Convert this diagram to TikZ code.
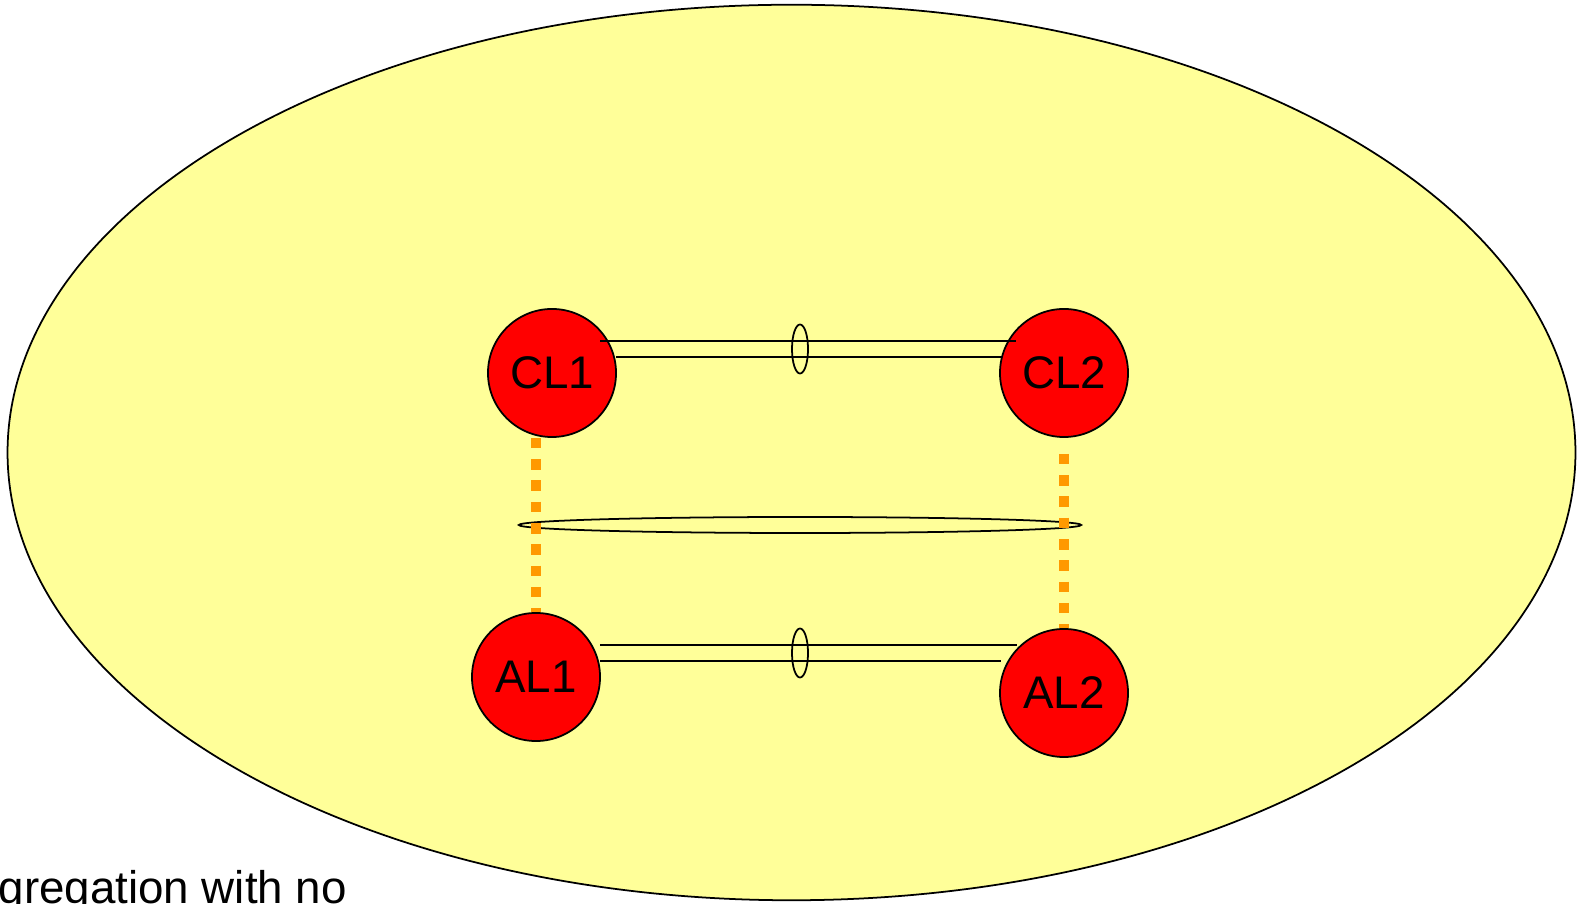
\documentclass[tikz,border=0pt]{standalone}
\usepackage{fontspec}
\setmainfont{Liberation Sans}
\usetikzlibrary{shapes.geometric, calc, backgrounds}

\definecolor{domainyellow}{RGB}{255,255,153}
\definecolor{tieorange}{RGB}{255,153,0}

\begin{document}
\begin{tikzpicture}[
  x=0.01cm, y=-0.01cm,
  station/.style={circle, draw, line width=0.5pt, fill=red, minimum size=1.28cm, inner sep=0pt, font=\fontsize{13}{15}\selectfont},
  ring/.style={ellipse, draw, line width=0.5pt, inner sep=0pt},
  bond/.style={line width=0.5pt},
  tie/.style={tieorange, line width=3pt, dash pattern=on 3pt off 3.05pt},
]
\useasboundingbox (0,0) rectangle (1585,904);
\clip (0,0) rectangle (1585,904);

% routers
\node[station] (CL1) at (552,373) {CL1};
\node[station] (CL2) at (1064,373) {CL2};
\node[station] (AL1) at (536,677) {AL1};
\node[station] (AL2) at (1064,693) {AL2};

\begin{scope}[on background layer]
  % domain
  \node[ellipse, draw, line width=0.5pt, fill=domainyellow, inner sep=0pt,
        minimum width=15.67cm, minimum height=8.95cm] (domain) at (791.5,452.5) {};
  \node[ring, minimum width=5.62cm, minimum height=0.16cm] (bundle) at (800,525) {};
  % vertical ties
  \draw[tie] (CL1.south -| AL1.north) -- (AL1.north);
  \draw[tie] ($(CL2.south)+(0,16)$) -- (AL2.north);
\end{scope}

% CL1 -- CL2 links
\draw[bond] ($(CL1.center)+(48,-32)$) -- ($(CL2.center)+(-48,-32)$);
\draw[bond] ($(CL1.center)+(64,-16)$) -- ($(CL2.center)+(-62,-16)$);
\node[ring, minimum width=0.16cm, minimum height=0.49cm] (lagC) at (800,349) {};

% AL1 -- AL2 links
\draw[bond] ($(AL1.center)+(64,-32)$) -- ($(AL2.center)+(-47,-48)$);
\draw[bond] ($(AL1.center)+(64,-16)$) -- ($(AL2.center)+(-63,-32)$);
\node[ring, minimum width=0.16cm, minimum height=0.49cm] (lagA) at (800,653) {};

\node[anchor=base west, inner sep=0pt, font=\fontsize{13}{15}\selectfont] (caption) at (-2,903) {gregation with no};

\end{tikzpicture}
\end{document}
